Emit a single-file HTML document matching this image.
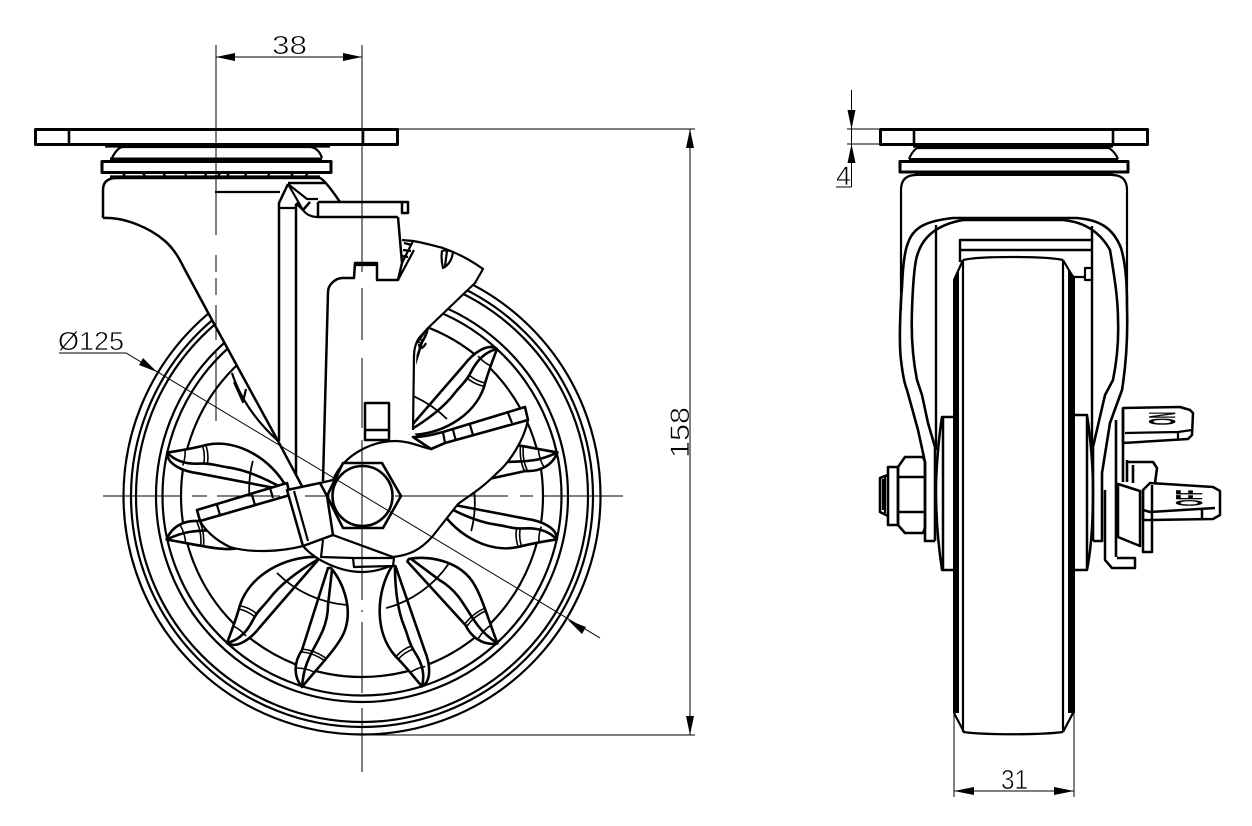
<!DOCTYPE html>
<html><head><meta charset="utf-8"><style>
html,body{margin:0;padding:0;background:#fff}
svg{display:block}
text{font-family:"Liberation Sans",sans-serif;fill:#000;stroke:#fff;stroke-width:.65}
.t{stroke:#000;stroke-width:1;fill:none}
.m{stroke:#000;fill:none;stroke-linejoin:round}
.w{stroke:#000;fill:#fff;stroke-linejoin:round}
.b{stroke:#000;fill:none}
text.k{stroke:#000;stroke-width:.5}
</style></head><body>
<svg width="1252" height="826" viewBox="0 0 1252 826" xmlns="http://www.w3.org/2000/svg" stroke-width="2.2">
<defs>
<g id="pair" stroke-width="2.6">
 <path class="w" d="M317 557C285 556 250 575 240 605C236 620 230 635 227 643C236 649 250 640 260 627L318 560Z"/>
 <path class="m" d="M227 643C240 640 248 630 253 620C258 610 263 607 270 598C280 585 295 573 317 560"/>
 <path class="w" d="M331 568C345 585 352 610 345 630C340 645 320 665 302 687C293 676 294 662 302 650L328 568Z"/>
 <path class="m" d="M302 687C303 675 305 668 307 663C312 650 318 642 323 630C327 620 328 613 328 605L332 570"/>
 <path class="m" stroke-width="1.8" d="M277 573A112 112 0 0 0 347 605"/>
 <path class="m" stroke-width="1.6" d="M239 609Q248 611 255 617M241 606Q250 608 257 614M233 626Q240 629 246 636M301 649Q315 650 327 659M302 652Q314 653 325 661M296 668Q306 668 314 672"/>
</g>
</defs>

<!-- wheel rings -->
<g class="m">
 <circle cx="362" cy="496" r="238.5"/><circle cx="362" cy="496" r="231"/><circle cx="362" cy="496" r="226"/>
 <circle cx="362" cy="496" r="206"/><circle cx="362" cy="496" r="199.5"/><circle cx="362" cy="496" r="181"/>
</g>
<use href="#pair"/>
<use href="#pair" transform="rotate(60 362 496)"/>
<use href="#pair" transform="rotate(-60 362 496)"/>
<use href="#pair" transform="rotate(-120 362 496)"/>
<use href="#pair" transform="rotate(180 362 496)"/>

<!-- top plate left -->
<rect class="w" x="35.5" y="129.5" width="362" height="15" stroke-width="3"/>
<path class="m" stroke-width="2.6" d="M69 129V144M363 129V144"/>
<path class="b" stroke-width="3.2" d="M105 146H330"/>
<path class="m" d="M112 158C115 152 118 148 122 147H311C316 148 320 152 322 158"/>
<path class="b" stroke-width="4" d="M110 159.5H322"/>
<rect class="m" x="102" y="161.5" width="229" height="11" stroke-width="3"/>
<path class="m" d="M110 176.5H320M122 172L125 176M142 172L145 176M163 172L165 176M185 172L186 176M207 172L205 176M221 172L218 176M226 172L229 176M247 172L245 176M270 172L268 176M290 172L293 176M308 172L306 176"/>

<!-- fork body fill -->
<path fill="#fff" d="M103 218L103 190Q103 178 117 178L320 178L340 202L408 203V213L398 217L402 240L413 241L443 248L483 269L475 283L428 328L417 343L413 432L430 450L340 470L296 490L278 441L212 320L184 268C180 260 175 250 165 241C150 228 125 217 103 218Z"/>
<path class="m" stroke-width="2.5" d="M103 218L103 190Q103 178 117 178L320 178Q325 180 340 202M103 218C125 217 150 228 165 241C175 250 180 260 184 268L212 320L278 441L303 488"/>
<path class="m" d="M215 192H280"/>
<path class="m" d="M232 373C240 398 255 420 278 441M234 382L243 402L246 389"/>
<!-- vertical bars -->
<path class="m" stroke-width="2.5" d="M279 441V203L288 184M296 475V204"/>
<path class="m" d="M280 208H296M288 184L303 210Q308 217 318 217M288 184L307 199H318"/>
<path class="m" stroke-width="2.5" d="M288 183H325M318 202H408V213H402V203M318 202V217H398M296 203L303 210L310 202"/>
<!-- brake body -->
<path class="m" stroke-width="2.5" d="M398 217L402 263L398 280H377V263H355L354 278H343C335 278 328 285 328 292L323 481"/>
<path class="b" stroke-width="3.2" d="M356 264.5H376"/>
<path class="m" d="M402 240L413 241C425 243 435 246 443 248C460 254 472 261 483 269L475 283L428 328L419 338C415 344 414 350 414 356L413 430"/>
<path class="m" d="M402 263L413 241M398 280L414 250M404 243L412 245M403 250L411 251M402 256L408 257"/>
<path class="m" d="M442 251C441 258 442 264 443 268C449 265 452 259 453 252C449 250 445 250 442 251ZM447 251L445 266"/>
<path class="m" stroke-width="2.5" d="M365 403H389V440H365ZM365 430H389"/>
<path class="m" d="M417 343L424 333M419 344C419 350 423 349 426 343"/>

<!-- left lever -->
<path class="w" d="M200 521L290 495L303 546C280 552 250 553 230 547C215 540 205 530 200 521Z"/>
<path class="w" stroke-width="2.6" d="M197 510L287 483L290 495L200 521Z"/>
<path class="m" d="M217 505L220 515M252 495L255 505M270 488L273 498"/>
<path class="w" d="M303 546C315 560 340 572 362 572C375 572 385 568 393 565L393 557L333 535Z"/>
<path class="m" d="M323 540L321 557L353 558"/>
<path class="w" d="M353 558H394L393 566L354 567Z"/>
<!-- right lever -->
<path class="w" d="M333 480C345 452 375 441 395 441C410 441 420 447 431 449L445 443L528 420C524 440 510 462 497 473C480 490 470 495 458 504L432 537C420 550 410 555 393 557L333 535L320 483Z"/>
<path class="w" stroke-width="2.6" d="M413 437C425 437 435 434 443 432L525 407L528 420L445 443L431 449Z"/>
<path class="m" d="M443 432L445 443M453 430L456 441M470 425L473 435M508 413L512 423"/>
<!-- block + hex -->
<path class="w" stroke-width="2.5" d="M287 490L320 483L327 496L333 535L303 546Z"/>
<path class="m" d="M294 491L308 541"/>
<path class="w" stroke-width="2.6" d="M327 496L343 463H382L401 496L383 528H343Z"/>
<circle class="m" cx="362.5" cy="496" r="30" stroke-width="2.6"/>

<!-- center lines -->
<g class="t">
 <path d="M103 496H182M192 496H207M217 496H280M305 496H330M395 496H508M520 496H533M543 496H623"/>
 <path d="M362 45V272M362 288V340M362 358V428M362 440V600M362 610V612M362 622V693M362 708V772"/>
 <path d="M216 45V235M216 255V272M216 278V295M216 305V340M216 350V421"/>
 <path d="M59 353H126L600 638"/>
 <path d="M216 57H362M690 129V735M398 129H695M362 735H695"/>
</g>
<!-- leader arrows -->
<path fill="#000" d="M157 372L139 365L143 358ZM568 620L586 627L582 634Z"/>
<path fill="#000" d="M216 57L235 53V61ZM362 57L343 53V61ZM690 129L686 148H694ZM690 735L686 716H694Z"/>
<text x="272" y="54" font-size="26" textLength="35" lengthAdjust="spacingAndGlyphs">38</text>
<text x="58" y="350" font-size="26" textLength="66" lengthAdjust="spacingAndGlyphs">Ø125</text>
<text transform="translate(689 458) rotate(-90)" font-size="27" textLength="51" lengthAdjust="spacingAndGlyphs">158</text>

<!-- RIGHT VIEW -->
<rect class="m" x="880.5" y="129.5" width="267" height="15" stroke-width="3"/>
<path class="m" stroke-width="2.6" d="M914 129V146M1113 129V146"/>
<path class="b" stroke-width="3.2" d="M913 146H1113"/>
<path class="m" d="M909 159C911 154 914 150 917 148H1109C1112 150 1116 154 1118 159"/>
<path class="b" stroke-width="4" d="M909 160H1118"/>
<rect class="m" x="900" y="161.5" width="228" height="10.5" stroke-width="3"/>
<path class="b" stroke-width="3" d="M915 174.5H1113"/>
<path class="m" d="M901 310V190Q901 175 916 175M1127 310V190Q1127 175 1112 175"/>
<!-- arms -->
<path class="m" stroke-width="2.6" d="M902 287C903 262 905 250 908 243C913 228 925 221 953 218H1077C1100 220 1113 228 1121 248C1126 265 1127 285 1127 307C1128 340 1126 365 1122 390L1110 423L1102 473V541H1093"/>
<path class="m" stroke-width="2.6" d="M902 287C900 310 899 345 901 360C903 378 905 385 907 390L918 430L925 462V541H935"/>
<path class="m" stroke-width="2.6" d="M912 310C913 280 915 260 918 253C923 238 935 225 963 220H1063C1085 222 1100 232 1110 250C1115 280 1118 300 1118 320C1119 345 1116 365 1113 380L1105 395L1093 447V541"/>
<path class="m" stroke-width="2.6" d="M912 310C911 335 913 360 917 380L922 395L928 423L935 447V541"/>
<path class="m" stroke-width="2.4" d="M936 225V450M1092 226V447M960 262V240H1092M960 250H1092"/>
<!-- wheel -->
<path class="m" d="M963 260C980 256 1045 256 1063 260M963 260V732M1063 260V732M963 732C985 735 1040 735 1063 732"/>
<path fill="#000" d="M953 713V280L959 270V713ZM1075 713V277L1068 268V713Z"/>
<path class="m" d="M954 713L964 732M1073 713L1063 732M963 260L954 280M1063 260L1073 277"/>
<path class="m" d="M1072 277H1085M1085 268H1092V280H1085Z"/>
<!-- hub -->
<path class="m" stroke-width="2.5" d="M953 417H942C939 435 936 470 936 490C936 520 939 550 942 570H953M943 417V570"/>
<path class="m" stroke-width="2.5" d="M1075 415H1087C1091 440 1093 470 1093 490C1093 520 1091 550 1087 570H1075M1087 415V570"/>
<!-- nut -->
<path class="m" stroke-width="2.6" d="M898 467L905 457H923L925 462V528L923 533H905L898 525ZM898 477H925M898 512H925"/>
<path class="m" stroke-width="2.6" d="M888 467H898V525H888ZM888 475L880 478V512L888 516"/>
<path class="m" d="M883 479V510M885 477V513"/>
<!-- brake right -->
<path class="w" stroke-width="2.5" d="M1123 408L1180 407L1190 410L1193 413L1192 435L1188 439L1123 443Z"/>
<path class="m" d="M1125 433L1178 432L1192 430M1178 432V440"/>
<path class="m" stroke-width="2.6" d="M1116 420V557M1123 408V482M1127 460V482M1127 462H1153L1157 468L1155 483M1133 465V483"/>
<path class="w" stroke-width="2.5" d="M1118 484L1140 491V546L1118 537Z"/>
<path class="w" stroke-width="2.5" d="M1143 490L1150 483L1213 487L1220 491L1220 515L1213 519L1150 520H1143Z"/>
<path class="m" stroke-width="2.5" d="M1143 510L1150 512L1215 508M1202 509V519M1143 490V552H1152V485"/>
<path class="m" stroke-width="2.5" d="M1105 490V560L1112 568H1135V558H1117"/>
<text class="k" transform="translate(1175 425) rotate(-90)" font-size="37" font-weight="bold" textLength="13" lengthAdjust="spacingAndGlyphs">ON</text>
<text class="k" transform="translate(1202 506) rotate(-90)" font-size="37" font-weight="bold" textLength="16" lengthAdjust="spacingAndGlyphs">OFF</text>

<!-- right dims -->
<g class="t">
 <path d="M851.5 90V187M847 129H880M847 144H880M836 187H851.5"/>
 <path d="M954 713V797M1074 713V797M954 791H1074"/>
</g>
<path fill="#000" d="M851.5 129L847.5 110H855.5ZM851.5 144L847.5 163H855.5ZM954 791L974 787V795ZM1074 791L1054 787V795Z"/>
<text x="836" y="185" font-size="27" textLength="15" lengthAdjust="spacingAndGlyphs">4</text>
<text x="1001" y="789" font-size="28" textLength="27" lengthAdjust="spacingAndGlyphs">31</text>
</svg>
</body></html>
